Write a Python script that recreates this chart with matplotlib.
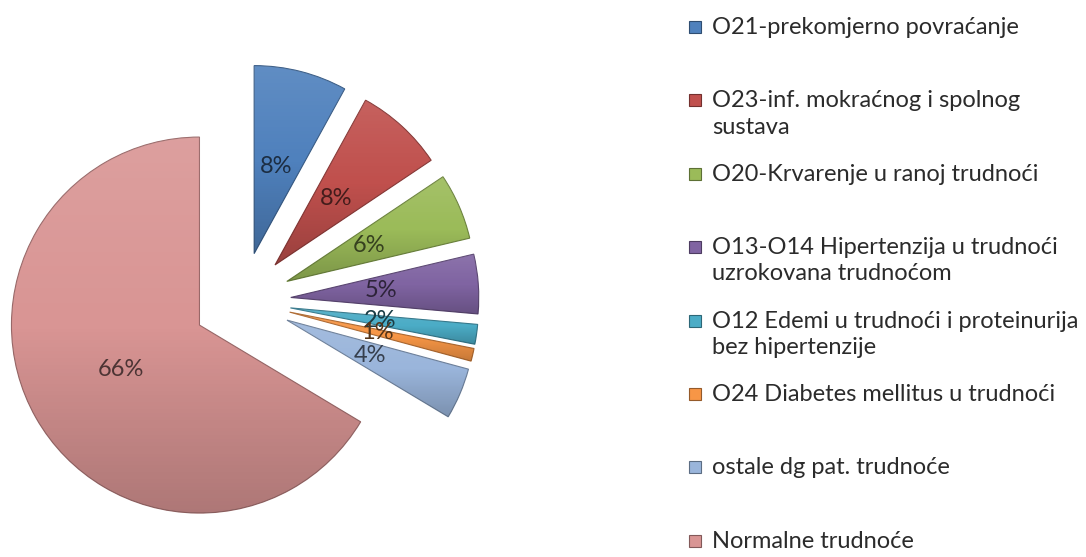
import matplotlib
matplotlib.use("Agg")
import matplotlib.pyplot as plt
import numpy as np
from matplotlib.patches import Rectangle
from matplotlib.colors import to_rgb

plt.rcParams["font.family"] = ["Lato", "DejaVu Sans"]

# data
categories = [
    "O21-prekomjerno povraćanje",
    "O23-inf. mokraćnog i spolnog\nsustava",
    "O20-Krvarenje u ranoj trudnoći",
    "O13-O14 Hipertenzija u trudnoći\nuzrokovana trudnoćom",
    "O12 Edemi u trudnoći i proteinurija\nbez hipertenzije",
    "O24 Diabetes mellitus u trudnoći",
    "ostale dg pat. trudnoće",
    "Normalne trudnoće",
]
values = [8.0, 7.6, 5.7, 5.1, 1.7, 1.1, 4.4, 66.4]
colors = ["#4F81BD", "#C0504D", "#9BBB59", "#8064A2",
          "#4BACC6", "#F79646", "#9AB5DB", "#D99594"]

W, H = 1086, 557
fig = plt.figure(figsize=(W / 100, H / 100), dpi=100)
fig.patch.set_facecolor("white")

# pie area: 188 px per unit radius, pie centre at pixel (242, 301)
scale = 188.0
cx, cy = 242, 301
ax = fig.add_axes([0, 0, 540 / W, 1])

def shade(c, f):
    r, g, b = to_rgb(c)
    return (r * f, g * f, b * f)

wedges, texts, autotexts = ax.pie(
    values, colors=colors, startangle=90, counterclock=False,
    explode=[0.26] * len(values), autopct="%.0f%%", pctdistance=0.48,
    wedgeprops=dict(linewidth=0.8),
    textprops=dict(fontsize=17),
)

for w, c, t in zip(wedges, colors, autotexts):
    w.set_edgecolor(shade(c, 0.7))
    t.set_color(shade(c, 0.35))
    # light-to-dark vertical gradient clipped to the slice
    bb = w.get_path().get_extents()
    grad = np.zeros((256, 1, 4))
    s = np.linspace(1, -1, 256)
    grad[:, 0, :3] = np.where(s[:, None] > 0, 1.0, 0.0)
    grad[:, 0, 3] = np.where(s > 0, s * 0.1, -s * 0.2)
    im = ax.imshow(grad, extent=[bb.x0, bb.x1, bb.y0, bb.y1],
                   aspect="auto", zorder=1.5, interpolation="bilinear")
    im.set_clip_path(w)

ax.set_xlim((0 - cx) / scale, (540 - cx) / scale)
ax.set_ylim((cy - H) / scale, cy / scale)
ax.set_aspect("equal")
ax.axis("off")

# legend on the right, one slot per entry
for i, (lab, c) in enumerate(zip(categories, colors)):
    yc = 27 + i * 73.4
    fig.add_artist(Rectangle((689 / W, 1 - (yc + 6) / H), 12 / W, 12 / H,
                             transform=fig.transFigure, facecolor=c,
                             edgecolor=shade(c, 0.6), linewidth=0.8))
    fig.text(712 / W, 1 - (yc - 10) / H, lab, fontsize=17, color="#2b2b2b",
             va="top", ha="left", linespacing=1.3)

fig.savefig("out.png", dpi=100)
